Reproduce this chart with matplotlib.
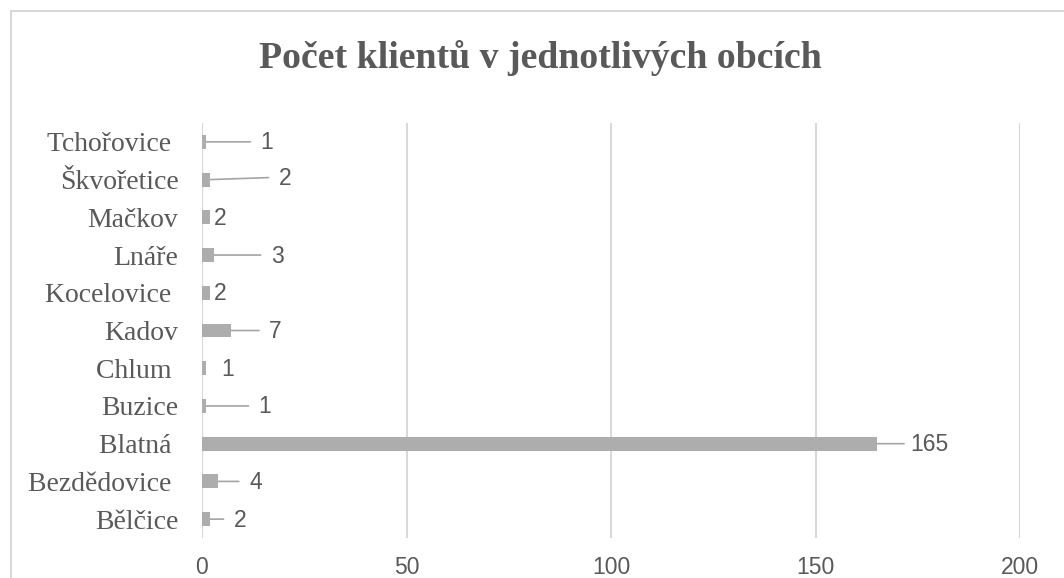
import matplotlib
matplotlib.use("Agg")
import matplotlib.pyplot as plt
from matplotlib.patches import Rectangle

# data (bottom to top)
categories = ["Bělčice", "Bezdědovice ", "Blatná ", "Buzice", "Chlum ", "Kadov",
              "Kocelovice ", "Lnáře", "Mačkov", "Škvořetice", "Tchořovice "]
values = [2, 4, 165, 1, 1, 7, 2, 3, 2, 2, 1]
xticks = [0, 50, 100, 150, 200]
title = "Počet klientů v jednotlivých obcích"

# label placement (pixel offset of label centre from bar end) and leader flags
label_dx = [30, 37, 53, 59, 22, 45, 10, 63, 10, 75, 61]
label_dy = [-1, -1, -1, -1, -1, -1, -1, -1, -1, 1, -1]
leader = [True, True, True, True, False, True, False, True, False, True, True]

TEXT = "#595959"
BAR = "#ADADAD"
GRID = "#D9D9D9"

W, H = 1064, 578
fig = plt.figure(figsize=(W / 100, H / 100), dpi=100)
fig.patch.set_facecolor("white")

# outer chart border
fig.add_artist(Rectangle((11 / W, -0.05), 1.2, 1 - 11 / H + 0.05,
                         transform=fig.transFigure, fill=False,
                         edgecolor=GRID, linewidth=1.5))

left, right = 202 / W, 1020 / W
bottom, top = 1 - 538 / H, 1 - 123 / H
ax = fig.add_axes([left, bottom, right - left, top - bottom])

ypos = list(range(len(categories)))
ax.barh(ypos, values, height=0.37, color=BAR, zorder=3)
ax.set_xlim(0, 200)
ax.set_ylim(-0.5, len(categories) - 0.5)
ax.set_xticks(xticks)
ax.set_xticklabels([str(t) for t in xticks], fontfamily="Liberation Sans",
                   fontsize=16.5, color=TEXT)
ax.set_yticks(ypos)
ax.set_yticklabels(categories, fontfamily="Liberation Serif", fontsize=20,
                   color=TEXT)
ax.tick_params(axis="x", length=0, pad=13)
ax.tick_params(axis="y", length=0, pad=17)
for s in ax.spines.values():
    s.set_visible(False)
ax.grid(axis="x", color=GRID, linewidth=1.5, zorder=0)
ax.grid(axis="y", visible=False)
ax.axvline(0, color=GRID, linewidth=1.5, zorder=1)

for y, v, dx, dy, ld in zip(ypos, values, label_dx, label_dy, leader):
    if ld:
        end_dx = dx - len(str(v)) * 4.6 - 12
        ax.annotate("", xy=(v, y), xytext=(end_dx, 2 * max(dy, 0)),
                    textcoords="offset pixels",
                    arrowprops=dict(arrowstyle="-", color="#A5A5A5",
                                    linewidth=1.2, shrinkA=0, shrinkB=0),
                    zorder=2)
    ax.annotate(str(v), xy=(v, y), xytext=(dx, dy), textcoords="offset pixels",
                ha="center", va="center", fontfamily="Liberation Sans",
                fontsize=16.5, color=TEXT, zorder=4)

fig.text(540 / W, 1 - 58 / H, title, ha="center", va="center",
         fontfamily="Liberation Serif", fontweight="bold", fontsize=27.2,
         color=TEXT)

fig.savefig("out.png", dpi=100)
